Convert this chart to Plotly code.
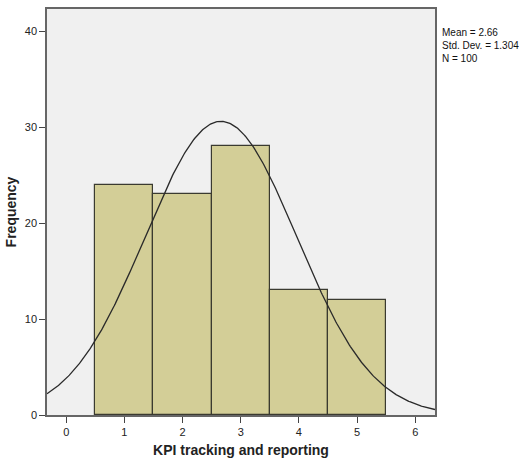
import numpy as np
import plotly.graph_objects as go

categories = [1, 2, 3, 4, 5]
frequencies = [24, 23, 28, 13, 12]
mean = 2.66
std_dev = 1.304
n_total = 100
x_ticks = [0, 1, 2, 3, 4, 5, 6]
y_ticks = [0, 10, 20, 30, 40]

x_range = [-0.33, 6.34]
y_range = [0, 42.3]

xs = np.linspace(x_range[0], x_range[1], 400)
ys = n_total * 1.0 / (std_dev * np.sqrt(2 * np.pi)) * np.exp(-0.5 * ((xs - mean) / std_dev) ** 2)

fig = go.Figure()
fig.add_trace(go.Bar(
    x=categories, y=frequencies, width=1.0,
    marker=dict(color="#d3ce97", line=dict(color="#3a3a30", width=1.2)),
    hoverinfo="x+y",
))
fig.add_trace(go.Scatter(
    x=xs, y=ys, mode="lines",
    line=dict(color="#2a2a2a", width=1.3),
    hoverinfo="skip",
))

fig.update_layout(
    width=521, height=464,
    margin=dict(l=47, r=86, t=7, b=49),
    paper_bgcolor="white",
    plot_bgcolor="#f0f0f0",
    showlegend=False,
    bargap=0,
    font=dict(family="Liberation Sans, Arial, sans-serif", color="#222222", size=11),
    xaxis=dict(
        range=x_range, tickvals=x_ticks, ticks="outside", ticklen=6, tickcolor="#444",
        showgrid=False, zeroline=False, showline=True, linecolor="#666", linewidth=1.5,
        mirror=True,
        title=dict(text="<b>KPI tracking and reporting</b>", font=dict(size=14), standoff=8),
    ),
    yaxis=dict(
        range=y_range, tickvals=y_ticks, ticks="outside", ticklen=6, tickcolor="#444",
        showgrid=False, zeroline=False, showline=True, linecolor="#666", linewidth=1.5,
        mirror=True,
        title=dict(text="<b>Frequency</b>", font=dict(size=14), standoff=5),
    ),
    annotations=[dict(
        x=1.0, y=1.0, xref="paper", yref="paper", xanchor="left", yanchor="top",
        xshift=5, yshift=-16, align="left", showarrow=False,
        text=f"Mean = {mean}<br>Std. Dev. = {std_dev}<br>N = {n_total}",
        font=dict(size=10, color="#111"),
    )],
)

fig.write_html("out.html")
